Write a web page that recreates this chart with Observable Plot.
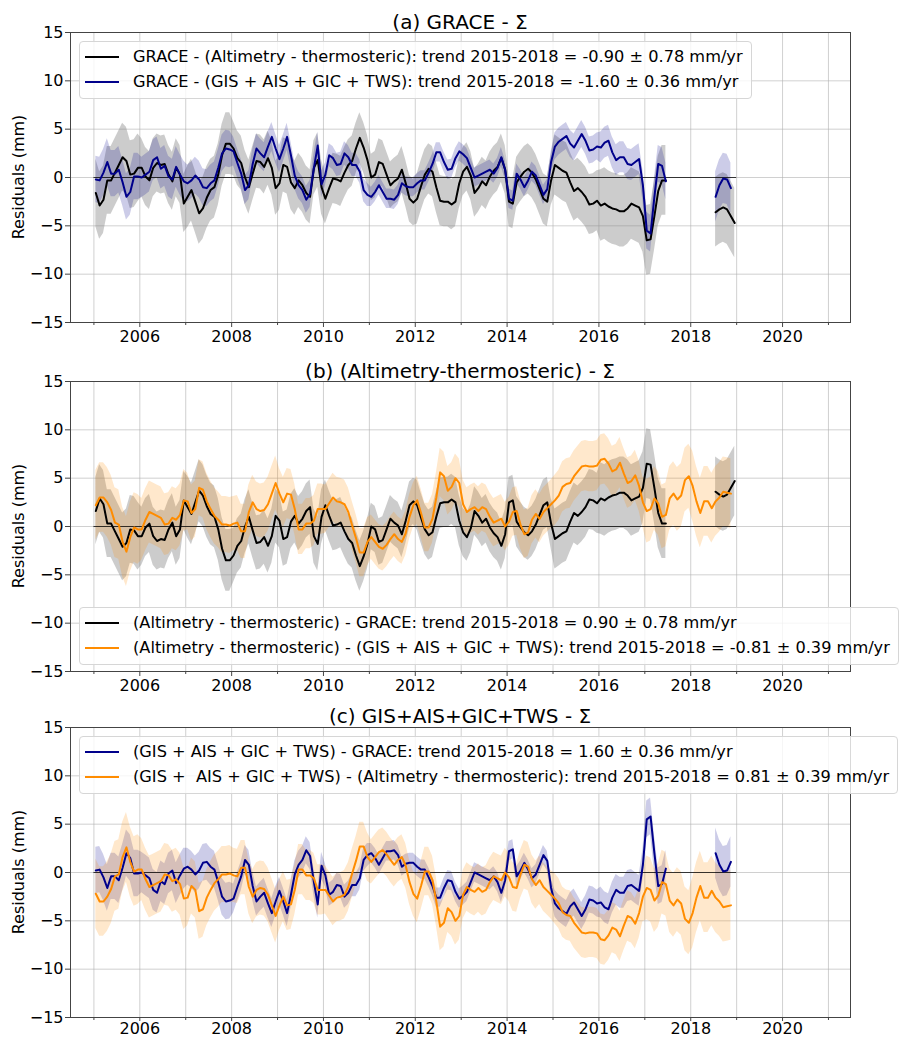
<!DOCTYPE html>
<html>
<head>
<meta charset="utf-8">
<script src="https://cdn.jsdelivr.net/npm/d3@7"></script>
<script src="https://cdn.jsdelivr.net/npm/@observablehq/plot@0.6"></script>
<style>
  html, body { margin: 0; padding: 0; overflow: hidden; background: #fff; }
  #page { position: relative; width: 906px; height: 1037px; overflow: hidden; font-family: "DejaVu Sans", sans-serif; color: #000; }
  .panel { position: absolute; left: 0; width: 906px; }
  .title { position: absolute; left: 0; width: 920px; text-align: center; font-size: 20px; line-height: 20px; white-space: pre; }
  .ylab { position: absolute; font-size: 16px; line-height: 16px; white-space: nowrap; transform: translate(-50%, -50%) rotate(-90deg); }
  .legend { position: absolute; left: 79px; border: 1px solid #d6d6d6; border-radius: 4px; background: rgba(255,255,255,0.8); padding: 2px 8px 4px 0; font-size: 16.2px; white-space: pre; }
  .legend .row { display: flex; align-items: center; height: 25px; }
  .legend .sw { display: inline-block; width: 34px; height: 2px; margin: 0 14px 0 5px; }
</style>
</head>
<body>
<div id="page"></div>
<script>
// ---------------- data (monthly residuals, mm) ----------------
// monthly time axis: Jan 2005 ... Dec 2018 (mid-month)
const startYear = 2005;
const nMonths = 168;

// GRACE - (Altimetry - thermosteric)   [black, panel a]
const graceMinusAlt = [
  -1.6, -2.9, -2.3, -0.3, -0.3, 0.5, 1.3, 2.1, 1.7, 0.3, 0.4, 1.0,
  1.0, 0.1, -0.3, 1.0, 1.5, 1.3, 1.4, 0.3, -0.4, 1.0, 0.3, -2.7,
  -2.0, -1.3, -2.5, -3.7, -3.2, -2.1, -1.3, -1.0, 0.3, 2.3, 3.5, 3.5,
  3.0, 2.0, 1.5, 0.0, -1.0, 0.4, 1.7, 1.6, 1.1, 2.0, 1.0, -1.1,
  -0.6, 1.3, 1.1, -0.5, -1.1, -0.3, -0.8, -1.6, -2.0, 1.0, 1.8, -1.0,
  -2.2, -1.1, -0.1, -0.2, -0.4, 0.5, 1.3, 1.7, 3.0, 4.1, 3.1, 1.8,
  0.0, 0.3, 1.6, 1.4, 0.3, -0.8, -0.4, -0.1, 0.8, -0.6, -2.2, -2.6,
  -2.2, -0.9, 0.3, 0.9, 0.6, -1.0, -2.4, -2.5, -2.5, -2.8, -2.5, -0.6,
  0.6, 1.1, 0.2, -1.6, -1.1, -0.4, -0.8, 0.1, 0.7, 1.1, 2.0, 0.8,
  -2.5, -2.7, -0.5, 0.1, 0.6, 0.9, 0.5, -0.2, -1.2, -2.2, -2.5, -0.3,
  1.3, 1.0, 0.7, 0.5, -0.5, -1.4, -1.1, -1.5, -2.0, -2.8, -2.7, -2.4,
  -2.9, -2.7, -3.0, -3.2, -3.3, -3.5, -3.5, -3.2, -2.7, -2.9, -3.1, -4.0,
  -6.5, -6.4, -4.0, -1.4, -0.3, -0.3, NaN, NaN, NaN, NaN, NaN, NaN,
  NaN, NaN, NaN, NaN, NaN, NaN, -3.6, -3.3, -3.1, -3.3, -4.0, -4.7
];

// GRACE - (GIS + AIS + GIC + TWS)   [dark blue, panel a]
const graceMinusComp = [
  -0.2, -0.3, 0.5, 1.6, 0.4, 0.4, 0.8, -0.5, -2.0, -1.5, 0.1, 0.1,
  0.0, 0.3, 0.6, 1.8, 2.1, 0.9, 1.2, 0.1, -0.2, 1.1, 0.3, -0.4,
  -0.6, -0.3, 0.2, -0.2, -1.0, -1.1, -0.6, -0.3, 1.0, 2.5, 3.0, 2.9,
  2.7, 1.5, 0.4, -1.3, -0.8, 1.4, 3.0, 2.5, 2.1, 3.2, 4.2, 3.0,
  1.9, 3.0, 4.2, 2.3, 0.2, -0.8, -1.3, -2.3, -1.7, 1.0, 3.3, -0.7,
  0.3, 2.3, 2.0, 1.3, 1.4, 2.5, 2.1, 1.3, 1.3, 0.6, -1.3, -1.8,
  -2.0, -1.5, -0.8, -1.5, -2.2, -2.2, -2.3, -1.8, -0.6, -0.9, -1.0, -1.0,
  -0.6, -0.3, -0.3, 0.5, 1.4, 2.6, 2.6, 1.6, 0.8, 0.9, 2.0, 2.7,
  2.4, 2.0, 1.0, 0.0, 0.2, 0.4, 0.6, 0.8, 0.4, 1.0, 2.1, 0.8,
  -2.2, -2.4, 0.4, -0.2, -1.0, -0.3, 0.6, 0.2, -0.8, -1.8, -1.2, 1.6,
  3.2, 3.7, 4.0, 4.3, 3.5, 3.1, 3.8, 4.5, 3.8, 2.8, 2.9, 3.2,
  3.1, 3.6, 3.8, 2.6, 1.8, 2.1, 2.1, 1.4, 1.3, 1.6, 1.9, -0.8,
  -5.5, -5.8, -2.0, 1.4, 1.2, -0.4, NaN, NaN, NaN, NaN, NaN, NaN,
  NaN, NaN, NaN, NaN, NaN, NaN, -2.0, -0.8, -0.1, -0.2, -1.1, NaN
];

// (Altimetry - thermosteric) - (GIS + AIS + GIC + TWS)   [orange, panel b]
const altMinusComp = [
  2.2, 3.0, 3.0, 2.5, 1.7, 0.4, 0.2, -1.6, -2.6, -1.1, -0.1, -0.3,
  -0.3, 0.7, 1.5, 1.3, 1.1, 0.9, 0.2, 0.3, 0.9, 0.7, 1.2, 2.7,
  2.6, 1.4, 1.8, 4.0, 3.8, 2.6, 1.8, 1.1, 0.7, 0.2, 0.2, 0.1,
  0.3, 0.4, -0.5, -0.5, 1.5, 2.5, 1.8, 1.6, 1.7, 2.3, 3.4, 4.5,
  3.4, 2.5, 3.4, 3.3, 1.8, -0.3, -0.3, 0.3, 0.3, 0.6, 1.8, 1.8,
  1.8, 2.4, 3.0, 2.6, 2.5, 2.3, 1.5, 0.1, -1.2, -2.7, -2.7, -1.6,
  -1.1, -1.6, -2.1, -2.3, -1.9, -1.3, -0.8, -1.3, -1.6, -0.7, 1.0, 2.2,
  2.7, 1.4, -0.1, -0.1, 0.8, 3.0, 5.6, 5.2, 3.7, 4.1, 5.0, 4.5,
  2.3, 1.5, 1.8, 2.0, 1.6, 2.0, 1.8, 1.0, 0.4, 0.6, 0.8, 0.0,
  0.5, 1.5, 1.6, 0.2, -0.8, -0.6, 0.7, 1.3, 0.8, 1.5, 1.9, 2.3,
  2.7, 3.2, 4.1, 4.4, 4.5, 5.2, 5.7, 6.2, 6.3, 6.2, 6.2, 6.3,
  6.9, 7.0, 6.5, 5.7, 5.9, 6.6, 5.5, 4.5, 4.7, 5.3, 4.2, 2.5,
  1.6, 1.8, 2.9, 2.4, 1.0, 1.2, 2.9, 3.4, 2.8, 3.2, 4.8, 5.2,
  4.2, 2.6, 1.4, 2.6, 2.6, 1.9, 2.6, 3.0, 3.6, 3.5, 3.4, NaN
];

// half-width of the shaded uncertainty bands, one value per year 2005..2018 (mm)
const bandYears = [2005, 2006, 2007, 2008, 2009, 2010, 2011, 2012, 2013, 2014, 2015, 2016, 2017, 2018];
const sigmaGraceAlt  = [3.5, 3.0, 3.2, 2.8, 2.8, 2.6, 2.4, 2.6, 2.5, 2.6, 3.1, 3.7, 3.6, 3.6];
const sigmaGraceComp = [2.4, 2.1, 1.9, 1.5, 1.4, 1.2, 1.0, 1.0, 1.0, 1.0, 1.4, 1.6, 1.9, 2.6];
const sigmaAltComp   = [3.6, 3.2, 2.9, 2.8, 2.6, 2.5, 2.3, 2.5, 2.5, 2.5, 2.6, 2.6, 3.3, 3.6];

// axis ticks
const yTicks = [-15, -10, -5, 0, 5, 10, 15];
const yearGrid = [2005, 2006, 2007, 2008, 2009, 2010, 2011, 2012, 2013, 2014, 2015, 2016, 2017, 2018, 2019, 2020, 2021];
const majorYears = [2006, 2008, 2010, 2012, 2014, 2016, 2018, 2020];
const minorYears = [2005, 2007, 2009, 2011, 2013, 2015, 2017, 2019, 2021];
const zeroSpan = [2005, 2019];
const xDomain = [2004.49, 2021.48];

// text
const titles = ["(a) GRACE - \u03A3", "(b) (Altimetry-thermosteric) - \u03A3", "(c) GIS+AIS+GIC+TWS - \u03A3"];
const legendA = [
  "GRACE - (Altimetry - thermosteric): trend 2015-2018 = -0.90 \u00B1 0.78 mm/yr",
  "GRACE - (GIS + AIS + GIC + TWS): trend 2015-2018 = -1.60 \u00B1 0.36 mm/yr"
];
const legendB = [
  "(Altimetry - thermosteric) - GRACE: trend 2015-2018 = 0.90 \u00B1 0.78 mm/yr",
  "(Altimetry - thermosteric) - (GIS + AIS + GIC + TWS): trend 2015-2018 = -0.81 \u00B1 0.39 mm/yr"
];
const legendC = [
  "(GIS + AIS + GIC + TWS) - GRACE: trend 2015-2018 = 1.60 \u00B1 0.36 mm/yr",
  "(GIS +  AIS + GIC + TWS) - (Altimetry - thermosteric): trend 2015-2018 = 0.81 \u00B1 0.39 mm/yr"
];

// ---------------- build ----------------
const BLACK = "#000000", BLUE = "darkblue", ORANGE = "darkorange";
const months = d3.range(nMonths).map(i => startYear + (i + 0.5) / 12);

// the panels (b) and (c) show the same differences with the opposite sign
function series(vals, sig, sign) {
  return months.map((t, i) => {
    const v = vals[i];
    const s = sig[bandYears.indexOf(Math.floor(t))];
    const ok = Number.isFinite(v);
    return {t, v: ok ? sign * v : NaN, lo: ok ? sign * v - s : NaN, hi: ok ? sign * v + s : NaN};
  });
}

const fmtY = d => d < 0 ? "\u2212" + Math.abs(d) : String(d);

function panel(bands, lines, xPad) {
  return Plot.plot({
    width: 906, height: 348,
    marginLeft: 70, marginRight: 56, marginTop: 32, marginBottom: 26,
    x: {domain: xDomain, axis: null},
    y: {domain: [-15, 15], axis: null},
    style: {fontFamily: "DejaVu Sans, sans-serif", fontSize: "16px", color: "#000", background: "transparent", overflow: "visible"},
    marks: [
      Plot.gridX(yearGrid, {stroke: "#b0b0b0", strokeOpacity: 0.6, strokeWidth: 1}),
      Plot.gridY(yTicks, {stroke: "#b0b0b0", strokeOpacity: 0.6, strokeWidth: 1}),
      ...bands.map(b => Plot.areaY(b.data, {x: "t", y1: "lo", y2: "hi", fill: b.fill, fillOpacity: b.op, curve: "linear"})),
      Plot.ruleY([0], {x1: zeroSpan[0], x2: zeroSpan[1], stroke: "#000", strokeOpacity: 0.75, strokeWidth: 1}),
      ...lines.map(l => Plot.line(l.data, {x: "t", y: "v", stroke: l.color, strokeWidth: 2})),
      Plot.frame({stroke: "#444", strokeWidth: 1}),
      Plot.axisX(majorYears, {tickSize: xPad.size, tickPadding: xPad.pad, tickFormat: d => String(d), label: null, stroke: "#444"}),
      Plot.axisX(minorYears, {tickSize: 3, tickFormat: () => "", label: null, stroke: "#444"}),
      Plot.axisY(yTicks, {tickSize: 5, tickPadding: 2, tickFormat: fmtY, label: null, stroke: "#444"})
    ]
  });
}

const sA = series(graceMinusAlt, sigmaGraceAlt, 1);
const sB = series(graceMinusComp, sigmaGraceComp, 1);
const sAneg = series(graceMinusAlt, sigmaGraceAlt, -1);
const sC = series(altMinusComp, sigmaAltComp, 1);
const sBneg = series(graceMinusComp, sigmaGraceComp, -1);
const sCneg = series(altMinusComp, sigmaAltComp, -1);

const panels = [
  {top: 0, titleTop: 12.4, xPad: {size: 5, pad: 3},
   bands: [{data: sA, fill: "gray", op: 0.4}, {data: sB, fill: BLUE, op: 0.2}],
   lines: [{data: sA, color: BLACK}, {data: sB, color: BLUE}],
   legend: {top: 41, items: [[BLACK, legendA[0]], [BLUE, legendA[1]]]}},
  {top: 348.5, titleTop: 360.9, xPad: {size: 5, pad: 3},
   bands: [{data: sAneg, fill: "gray", op: 0.4}, {data: sC, fill: ORANGE, op: 0.2}],
   lines: [{data: sAneg, color: BLACK}, {data: sC, color: ORANGE}],
   legend: {top: 607, items: [[BLACK, legendB[0]], [ORANGE, legendB[1]]]}},
  {top: 694.5, titleTop: 706, xPad: {size: 4, pad: 1},
   bands: [{data: sBneg, fill: BLUE, op: 0.2}, {data: sCneg, fill: ORANGE, op: 0.2}],
   lines: [{data: sBneg, color: BLUE}, {data: sCneg, color: ORANGE}],
   legend: {top: 736, items: [[BLUE, legendC[0]], [ORANGE, legendC[1]]]}}
];

const page = document.getElementById("page");
panels.forEach((p, k) => {
  const div = document.createElement("div");
  div.className = "panel";
  div.style.top = p.top + "px";
  div.appendChild(panel(p.bands, p.lines, p.xPad));
  page.appendChild(div);

  const title = document.createElement("div");
  title.className = "title";
  title.style.top = p.titleTop + "px";
  title.textContent = titles[k];
  page.appendChild(title);

  const yl = document.createElement("div");
  yl.className = "ylab";
  yl.style.left = "19px";
  yl.style.top = (p.top + 32 + 145) + "px";
  yl.textContent = "Residuals (mm)";
  page.appendChild(yl);

  const lg = document.createElement("div");
  lg.className = "legend";
  lg.style.top = p.legend.top + "px";
  p.legend.items.forEach(([c, txt]) => {
    const row = document.createElement("div");
    row.className = "row";
    const sw = document.createElement("span");
    sw.className = "sw";
    sw.style.background = c;
    const tx = document.createElement("span");
    tx.textContent = txt;
    row.appendChild(sw);
    row.appendChild(tx);
    lg.appendChild(row);
  });
  page.appendChild(lg);
});
</script>
</body>
</html>
